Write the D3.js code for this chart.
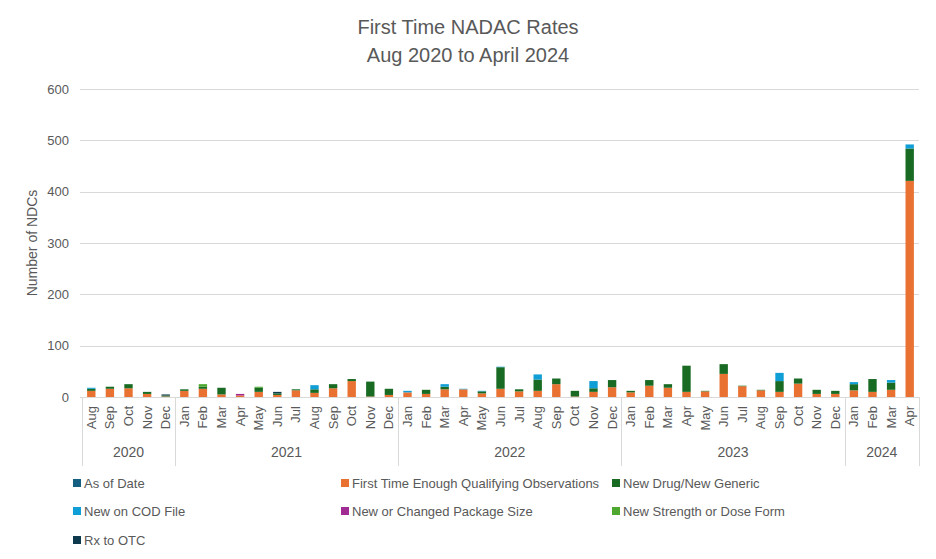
<!DOCTYPE html>
<html>
<head>
<meta charset="utf-8">
<script src="https://cdn.jsdelivr.net/npm/d3@7"></script>
<style>
  body { margin: 0; background: #fff; }
  text { font-family: "Liberation Sans", Arial, sans-serif; fill: #595959; }
</style>
</head>
<body>
<div id="chart"></div>
<script>
// categories
var months = ["Aug","Sep","Oct","Nov","Dec",
  "Jan","Feb","Mar","Apr","May","Jun","Jul","Aug","Sep","Oct","Nov","Dec",
  "Jan","Feb","Mar","Apr","May","Jun","Jul","Aug","Sep","Oct","Nov","Dec",
  "Jan","Feb","Mar","Apr","May","Jun","Jul","Aug","Sep","Oct","Nov","Dec",
  "Jan","Feb","Mar","Apr"];
var yearLabels = ["2020", "2021", "2022", "2023", "2024"];
var yearCounts = [5, 12, 12, 12, 4];
var yTicks = [0, 100, 200, 300, 400, 500, 600];

// series values (one per month)
var asOfDate = [0,0,0,0,0, 0,0,0,0,0,0,0,0,0,0,0,0, 0,0,0,0,0,0,0,0,0,0,0,0, 0,0,0,0,0,0,0,0,0,0,0,0, 0,0,0,0];
var firstTime = [12,16,17,6,1, 12,16,5,3,10,4,13,8,17,31,1,4, 9,6,15,15,7,16,11,12,25,1,10,19, 9,22,18,10,11,45,21,13,10,26,6,6, 13,10,14,421];
var newDrug = [4,4,8,4,2, 3,4,13,0,8,3,2,7,8,4,29,12, 0,8,5,0,4,42,4,22,11,11,7,14, 3,11,7,51,1,19,1,1,21,10,8,6, 12,25,14,63];
var newCod = [2,0,0,0,0, 0,0,0,0,0,0,0,8,0,0,0,0, 3,0,5,1,1,1,0,10,0,0,14,0, 0,0,0,0,0,0,0,0,16,0,0,0, 4,0,5,8];
var packageSize = [0,0,0,0,0, 0,0,0,3,0,0,0,0,0,0,0,0, 0,0,0,0,0,0,0,0,0,0,0,0, 0,0,0,0,0,0,0,0,0,0,0,0, 0,0,0,0];
var newStrength = [0,0,0,0,0, 0,5,0,0,2,0,0,0,0,0,0,0, 0,0,0,0,0,0,0,0,0,0,0,0, 0,0,0,0,0,0,0,0,0,0,0,0, 0,0,0,0];
var rxToOtc = [0,0,0,0,2, 0,0,0,0,0,3,0,0,0,0,0,0, 0,0,0,0,0,0,0,0,0,0,0,0, 0,0,0,0,0,0,0,0,0,0,0,0, 0,0,0,0];

var seriesNames = ["As of Date", "First Time Enough Qualifying Observations", "New Drug/New Generic",
  "New on COD File", "New or Changed Package Size", "New Strength or Dose Form", "Rx to OTC"];
var seriesValues = [asOfDate, firstTime, newDrug, newCod, packageSize, newStrength, rxToOtc];
var seriesColors = ["#156082", "#E97132", "#196B24", "#0F9ED5", "#A02B93", "#4EA72E", "#0E3A4E"];

var width = 936, height = 559,
    margin = {top: 89, right: 17, bottom: 162, left: 82};

var svg = d3.select("#chart").append("svg")
    .attr("width", width)
    .attr("height", height);

// build table for the stack
var rows = months.map(function(m, i) {
    var r = {idx: i};
    seriesNames.forEach(function(s, k) { r[s] = seriesValues[k][i]; });
    return r;
});
var stacked = d3.stack().keys(seriesNames)(rows);

var x = d3.scaleBand()
    .domain(d3.range(months.length))
    .range([margin.left, width - margin.right])
    .paddingInner(0.55)
    .paddingOuter(0.275);

var y = d3.scaleLinear()
    .domain([0, 600])
    .range([height - margin.bottom, margin.top]);

// gridlines
svg.append("g")
    .selectAll("line")
    .data(yTicks)
    .enter()
    .append("line")
    .attr("x1", margin.left - 2)
    .attr("x2", width - margin.right)
    .attr("y1", function(d) { return Math.round(y(d)) + 0.5; })
    .attr("y2", function(d) { return Math.round(y(d)) + 0.5; })
    .style("stroke", "#d9d9d9")
    .style("stroke-width", 1);

// y axis labels
var yAxis = svg.append("g")
    .attr("transform", "translate(" + (margin.left - 13) + ",0)")
    .call(d3.axisLeft(y).tickValues(yTicks).tickSize(0).tickPadding(0));
yAxis.select(".domain").remove();
yAxis.selectAll("text").style("font-size", "13px").style("fill", "#595959")
    .style("font-family", "'Liberation Sans', Arial, sans-serif");

// bars
svg.append("g")
    .selectAll("g")
    .data(stacked)
    .enter()
    .append("g")
    .style("fill", function(d, i) { return seriesColors[i]; })
    .selectAll("rect")
    .data(function(d) { return d; })
    .enter()
    .append("rect")
    .attr("x", function(d, i) { return x(i); })
    .attr("width", x.bandwidth())
    .attr("y", function(d) { return y(d[1]); })
    .attr("height", function(d) { return y(d[0]) - y(d[1]); });

// month labels
svg.append("g")
    .selectAll("text")
    .data(months)
    .enter()
    .append("text")
    .attr("transform", function(d, i) {
        return "translate(" + (x(i) + x.bandwidth() / 2 + 4.5) + "," + (height - margin.bottom + 9) + ") rotate(-90)";
    })
    .attr("text-anchor", "end")
    .style("font-size", "13px")
    .text(function(d) { return d; });

// year groups and dividers
var step = x.step(), start = 0, bounds = [0];
yearCounts.forEach(function(c) { start += c; bounds.push(start); });

svg.append("g")
    .selectAll("line")
    .data(bounds)
    .enter()
    .append("line")
    .attr("x1", function(d) { return Math.round(margin.left + d * step) + 0.5; })
    .attr("x2", function(d) { return Math.round(margin.left + d * step) + 0.5; })
    .attr("y1", height - margin.bottom)
    .attr("y2", 466)
    .style("stroke", "#d9d9d9");

svg.append("g")
    .selectAll("text")
    .data(yearLabels)
    .enter()
    .append("text")
    .attr("x", function(d, i) { return margin.left + (bounds[i] + bounds[i + 1]) / 2 * step; })
    .attr("y", 457)
    .attr("text-anchor", "middle")
    .style("font-size", "14px")
    .text(function(d) { return d; });

// titles
svg.append("text")
    .attr("x", 468).attr("y", 34)
    .attr("text-anchor", "middle")
    .style("font-size", "20px")
    .text("First Time NADAC Rates");
svg.append("text")
    .attr("x", 468).attr("y", 62)
    .attr("text-anchor", "middle")
    .style("font-size", "20px")
    .text("Aug 2020 to April 2024");

svg.append("text")
    .attr("transform", "translate(37,243) rotate(-90)")
    .attr("text-anchor", "middle")
    .style("font-size", "14px")
    .text("Number of NDCs");

// legend
var legendX = [73, 341, 612], legendY = [483, 511, 540];
var legend = svg.append("g")
    .selectAll("g")
    .data(seriesNames)
    .enter()
    .append("g")
    .attr("transform", function(d, i) {
        return "translate(" + legendX[i % 3] + "," + legendY[Math.floor(i / 3)] + ")";
    });
legend.append("rect")
    .attr("x", 0).attr("y", -4)
    .attr("width", 8).attr("height", 8)
    .style("fill", function(d, i) { return seriesColors[i]; });
legend.append("text")
    .attr("x", 11).attr("y", 5)
    .style("font-size", "13px")
    .text(function(d) { return d; });
</script>
</body>
</html>
